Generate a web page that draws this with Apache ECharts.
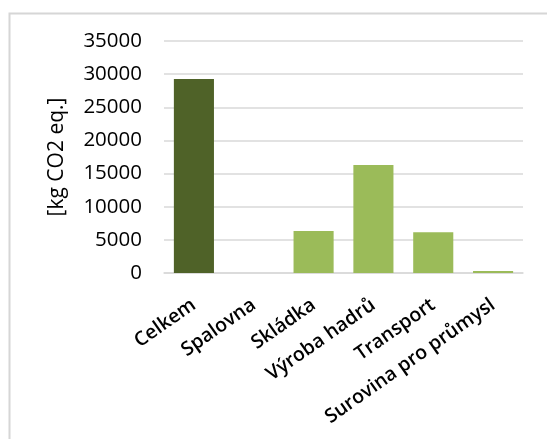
<!DOCTYPE html>
<html>
<head>
<meta charset="utf-8">
<script src="https://cdn.jsdelivr.net/npm/echarts@6/dist/echarts.min.js"></script>
<style>
  html, body { margin: 0; padding: 0; background: #fff; }
  #chart { width: 547px; height: 439px; }
</style>
</head>
<body>
<div id="chart"></div>
<script>
// Emission categories and their totals in kg CO2 eq.
const categories = ['Celkem', 'Spalovna', 'Skládka', 'Výroba hadrů', 'Transport', 'Surovina pro průmysl'];
const values = [29250, 0, 6350, 16300, 6150, 300];
const yTicks = [0, 5000, 10000, 15000, 20000, 25000, 30000, 35000];
const yAxisTitle = '[kg CO2 eq.]';

const totalColor = '#4F6228';
const partColor = '#9BBB59';
const font = '"Open Sans", sans-serif';

const chart = echarts.init(document.getElementById('chart'), null, { renderer: 'canvas' });

chart.setOption({
  animation: false,
  backgroundColor: '#ffffff',
  graphic: [{
    type: 'rect',
    left: 7, top: 11,
    shape: { width: 620, height: 520 },
    style: { fill: 'none', stroke: '#d6d6d6', lineWidth: 2 },
    silent: true
  }],
  grid: { left: 164, right: 24, top: 41, bottom: 166, containLabel: false },
  xAxis: {
    type: 'category',
    data: categories,
    axisLine: { show: true, lineStyle: { color: '#d9d9d9', width: 1.5 } },
    axisTick: { show: false },
    axisLabel: {
      interval: 0,
      rotate: 35,
      margin: 30,
      fontFamily: font,
      fontSize: 19.5,
      fontWeight: 600,
      color: '#000'
    }
  },
  yAxis: {
    type: 'value',
    min: yTicks[0],
    max: yTicks[yTicks.length - 1],
    interval: yTicks[1] - yTicks[0],
    name: yAxisTitle,
    nameLocation: 'middle',
    nameGap: 96,
    nameTextStyle: { fontFamily: font, fontSize: 21, color: '#000' },
    axisLine: { show: false },
    axisTick: { show: false },
    axisLabel: {
      margin: 22,
      fontFamily: font,
      fontSize: 20.5,
      color: '#000',
      formatter: (v) => String(v)
    },
    splitLine: { lineStyle: { color: '#d9d9d9', width: 1.5 } }
  },
  series: [{
    type: 'bar',
    barWidth: '67%',
    data: values.map((v, i) => ({
      value: v,
      itemStyle: { color: i === 0 ? totalColor : partColor }
    }))
  }]
});
</script>
</body>
</html>
